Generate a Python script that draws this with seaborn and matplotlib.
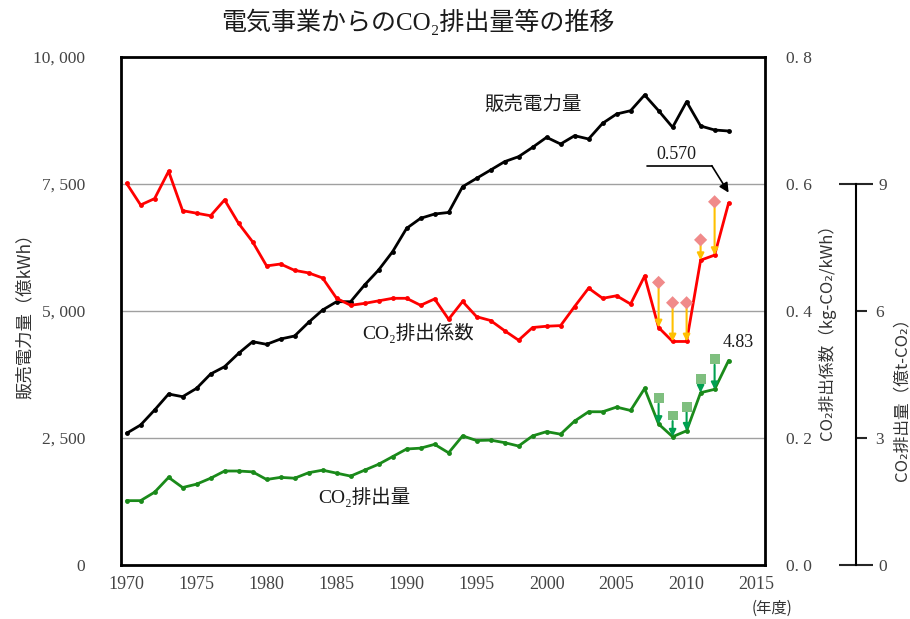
import matplotlib
matplotlib.use('Agg')
import pandas as pd
import matplotlib.pyplot as plt
import seaborn as sns

# data
years = list(range(1970, 2014))
sales = [2593, 2756, 3051, 3366, 3313, 3478, 3760, 3904, 4167, 4396,
         4344, 4449, 4508, 4777, 5020, 5183, 5183, 5512, 5807, 6168,
         6627, 6825, 6909, 6940, 7447, 7612, 7775, 7940, 8038, 8222,
         8419, 8287, 8451, 8386, 8695, 8878, 8943, 9252, 8943, 8616,
         9120, 8642, 8563, 8543]
coef = [0.601, 0.567, 0.577, 0.620, 0.558, 0.554, 0.550, 0.575, 0.538, 0.509,
        0.471, 0.474, 0.464, 0.460, 0.452, 0.420, 0.409, 0.412, 0.416, 0.420,
        0.420, 0.409, 0.419, 0.387, 0.415, 0.391, 0.385, 0.369, 0.354, 0.374,
        0.376, 0.377, 0.407, 0.436, 0.420, 0.424, 0.411, 0.455, 0.374, 0.352,
        0.352, 0.480, 0.488, 0.570]
co2 = [1.52, 1.52, 1.72, 2.07, 1.83, 1.91, 2.05, 2.22, 2.22, 2.20,
       2.02, 2.07, 2.05, 2.18, 2.24, 2.17, 2.10, 2.24, 2.38, 2.56,
       2.74, 2.76, 2.85, 2.65, 3.05, 2.94, 2.95, 2.89, 2.81, 3.05,
       3.15, 3.09, 3.40, 3.62, 3.62, 3.73, 3.65, 4.17, 3.33, 3.03,
       3.17, 4.07, 4.15, 4.83]

# values before credit adjustment (2008-2012)
credit_years = [2008, 2009, 2010, 2011, 2012]
coef_before = [0.445, 0.413, 0.413, 0.512, 0.572]
co2_before = [3.94, 3.53, 3.74, 4.39, 4.86]

x_major = [1970, 1975, 1980, 1985, 1990, 1995, 2000, 2005, 2010, 2015]
left_ticks = [0, 2500, 5000, 7500, 10000]
left_labels = ['0', '2, 500', '5, 000', '7, 500', '10, 000']
right_ticks = [0.0, 0.2, 0.4, 0.6, 0.8]
right_labels = ['0. 0', '0. 2', '0. 4', '0. 6', '0. 8']

df = pd.DataFrame({'year': years, 'sales': sales, 'coef': coef, 'co2': co2})
df_before = pd.DataFrame({'year': credit_years, 'coef': coef_before, 'co2': co2_before})

sns.set_style('white')
plt.rcParams['font.family'] = ['Liberation Serif', 'Noto Sans CJK JP', 'DejaVu Sans']
cjk = ['Noto Sans CJK JP', 'DejaVu Sans']

fig = plt.figure(figsize=(9.1, 6.19), dpi=100)
ax = fig.add_axes([121 / 910, 54 / 619, 644 / 910, 508 / 619])
ax2 = ax.twinx()
ax3 = ax.twinx()

# lines
sns.lineplot(data=df, x='year', y='sales', ax=ax, color='black', lw=2,
             marker='o', markersize=3.5, markeredgewidth=0)
sns.lineplot(data=df, x='year', y='coef', ax=ax2, color='#ff0000', lw=2,
             marker='o', markersize=3.5, markeredgewidth=0)
sns.lineplot(data=df, x='year', y='co2', ax=ax3, color='#1a8a1a', lw=2,
             marker='o', markersize=3.5, markeredgewidth=0)

# pre-credit markers and arrows
sns.scatterplot(data=df_before, x='year', y='coef', ax=ax2, marker='D',
                color='#f08a8a', s=45, edgecolor='none', zorder=5)
sns.scatterplot(data=df_before, x='year', y='co2', ax=ax3, marker='s',
                color='#7fbf7f', s=50, edgecolor='none', zorder=5)
coef_after = dict(zip(years, coef))
co2_after = dict(zip(years, co2))
for yr, v in zip(credit_years, coef_before):
    ax2.annotate('', xy=(yr, coef_after[yr]), xytext=(yr, v),
                 arrowprops=dict(arrowstyle='-|>', color='#ffc000', lw=1.5,
                                 shrinkA=4, shrinkB=0, mutation_scale=10))
for yr, v in zip(credit_years, co2_before):
    ax3.annotate('', xy=(yr, co2_after[yr]), xytext=(yr, v),
                 arrowprops=dict(arrowstyle='-|>', color='#00a050', lw=1.5,
                                 shrinkA=4, shrinkB=0, mutation_scale=10))

# axes ranges
ax.set_xlim(1969.6, 2015.6)
ax.set_ylim(0, 10000)
ax2.set_ylim(0, 0.8)
ax3.set_ylim(0, 12)

# grid
for g in [2500, 5000, 7500]:
    ax.axhline(g, color='#a0a0a0', lw=1, zorder=0)

# spines
for s in ax.spines.values():
    s.set_linewidth(2)
    s.set_color('black')
for s in ax2.spines.values():
    s.set_visible(False)
for name in ['top', 'left', 'bottom']:
    ax3.spines[name].set_visible(False)
ax3.spines['right'].set_position(('axes', (856 - 121) / 644))
ax3.spines['right'].set_bounds(0, 9)
ax3.spines['right'].set_linewidth(1.5)
ax3.spines['right'].set_color('black')

# ticks
ax.set_xticks(x_major)
ax.set_xticks(years + [2014, 2015], minor=True)
ax.tick_params(axis='x', which='both', direction='in', length=5, width=1,
               labelsize=13, labelcolor='#444444', pad=8)
ax.set_yticks(left_ticks)
ax.set_yticklabels(left_labels)
ax.tick_params(axis='y', length=0, labelsize=12.5, labelcolor='#444444', pad=26)

ax2.set_yticks(right_ticks)
ax2.set_yticklabels(right_labels)
ax2.tick_params(axis='y', length=0, labelsize=12.5, labelcolor='#444444', pad=15)

ax3.set_yticks([0, 9])
ax3.set_yticks([3, 6], minor=True)
ax3.set_yticklabels(['0', '9'])
ax3.set_yticklabels(['3', '6'], minor=True)
ax3.tick_params(axis='y', which='major', direction='inout', length=24, width=1.5,
                labelsize=12.5, labelcolor='#444444', pad=4)
ax3.tick_params(axis='y', which='minor', direction='out', length=8, width=1.5,
                labelsize=12.5, labelcolor='#444444', pad=6)

# axis labels
ax.set_xlabel('')
ax.set_ylabel('販売電力量（億kWh）', fontsize=12.5, color='#333333', family=cjk)
ax.yaxis.set_label_coords((34 - 121) / 644, (565 - 312) / 508)
ax2.set_ylabel('CO₂排出係数（kg-CO₂/kWh）', fontsize=12, color='#333333', family=cjk)
ax2.yaxis.set_label_coords((818 - 121) / 644, (565 - 328) / 508)
ax3.set_ylabel('CO₂排出量（億t-CO₂）', fontsize=12, color='#333333', family=cjk)
ax3.yaxis.set_label_coords((893 - 121) / 644, (565 - 395) / 508)

# in-plot labels
ax.text(1999.0, 9055, '販売電力量', ha='center', va='center', fontsize=14, color='#1a1a1a')
ax.text(1990.8, 4567, 'CO₂排出係数', ha='center', va='center', fontsize=14, color='#1a1a1a')
ax.text(1987.0, 1339, 'CO₂排出量', ha='center', va='center', fontsize=14, color='#1a1a1a')
ax.text(2009.3, 8080, '0.570', ha='center', va='center', fontsize=13, color='#1a1a1a')
ax.plot([2007.15, 2011.8], [7860, 7860], color='black', lw=1.2)
ax.annotate('', xy=(2013.0, 7330), xytext=(2011.8, 7860),
            arrowprops=dict(arrowstyle='-|>', color='black', lw=1.2,
                            shrinkA=0, shrinkB=0, mutation_scale=14))
ax3.text(2013.7, 5.25, '4.83', ha='center', va='center', fontsize=13, color='#1a1a1a')

fig.text(772 / 910, 1 - 608 / 619, '(年度)', ha='center', va='center',
         fontsize=11, color='#333333', family=cjk)
fig.text(418 / 910, 1 - 22 / 619, '電気事業からのCO₂排出量等の推移', ha='center',
         va='center', fontsize=18, color='#1a1a1a')

fig.savefig('out.png', dpi=100)
